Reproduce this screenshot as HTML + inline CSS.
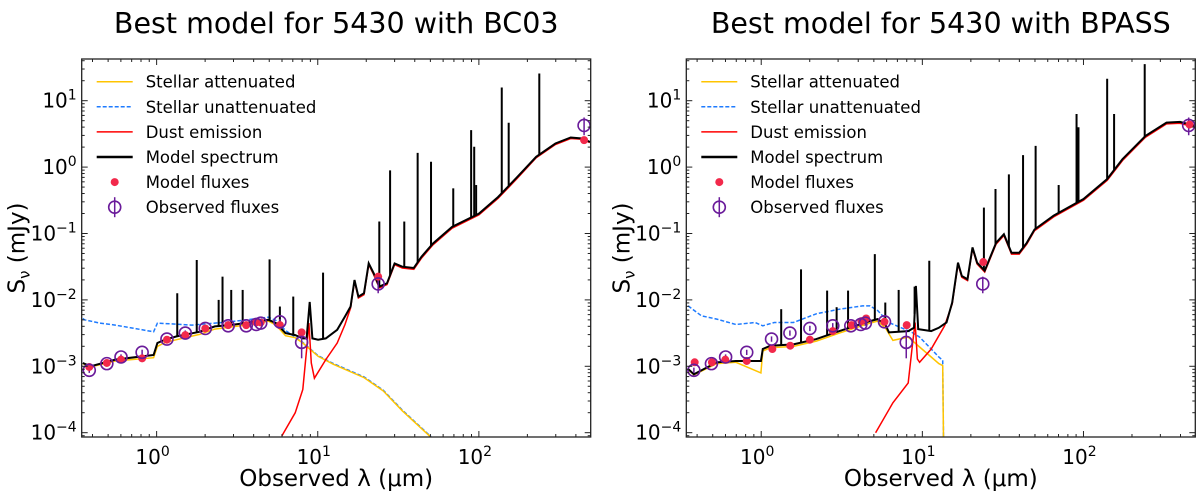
<!DOCTYPE html>
<html><head><meta charset="utf-8">
<style>
html,body{margin:0;padding:0;background:#fff;}
svg{display:block;font-family:"DejaVu Sans","Liberation Sans",sans-serif;}
</style></head>
<body>
<svg id="chart" width="1200" height="492" viewBox="0 0 1200 492" xmlns="http://www.w3.org/2000/svg"></svg>
<script>
// ---- shared data (log10 units) ----
const obsLam = [-0.418,-0.309,-0.221,-0.09,0.064,0.178,0.302,0.444,0.556,0.618,0.646,0.765,0.90,1.375,2.653];
const obsFlux = [-3.06,-2.96,-2.86,-2.79,-2.59,-2.50,-2.43,-2.39,-2.39,-2.37,-2.35,-2.33,-2.64,-1.76,0.627];
const obsErrHi = [-3.02,-2.92,-2.82,-2.75,-2.55,-2.46,-2.39,-2.35,-2.35,-2.33,-2.31,-2.29,-2.45,-1.65,0.746];
const obsErrLo = [-3.10,-3.00,-2.90,-2.83,-2.63,-2.54,-2.47,-2.43,-2.43,-2.41,-2.39,-2.37,-2.88,-1.90,0.48];
const xTicks = [0,1,2];
const yTicks = [1,0,-1,-2,-3,-4];

// ---- BC03 panel ----
const bc03ContLam = [-0.458,-0.41,-0.257,-0.019,0.005,0.052,0.124,0.266,0.361,0.456,0.575,0.694,0.741,0.80,0.86,0.907,0.931,0.95,0.967,1.002,1.05,1.121,1.169,1.204,1.228,1.252,1.287,1.316,1.347,1.382,1.43,1.477,1.525,1.596,1.644,1.715,1.834,2.0,2.119,2.238,2.356,2.475,2.57,2.641,2.689];
const bc03ContFlux = [-2.95,-3.00,-2.90,-2.83,-2.65,-2.60,-2.55,-2.48,-2.40,-2.38,-2.34,-2.30,-2.35,-2.50,-2.53,-2.58,-2.58,-2.03,-2.58,-2.60,-2.58,-2.45,-2.25,-2.10,-1.70,-1.95,-1.90,-1.45,-1.60,-1.80,-1.75,-1.45,-1.50,-1.52,-1.35,-1.15,-0.90,-0.70,-0.45,-0.15,0.155,0.356,0.446,0.43,0.38];
const bc03LineLam = [0.128,0.249,0.385,0.409,0.463,0.534,0.701,0.765,0.848,1.033,1.382,1.449,1.537,1.62,1.703,1.841,1.952,1.971,1.983,2.142,2.185,2.375];
const bc03LinePeak = [-1.90,-1.40,-2.0,-1.65,-1.85,-1.85,-1.39,-2.10,-1.95,-1.59,-0.82,-0.05,-0.82,0.215,0.08,-0.32,0.556,0.306,-0.27,1.198,0.667,1.41];
const bc03UnattLam = [-0.458,-0.447,-0.352,-0.257,-0.138,-0.019,0.005,0.219,0.456,0.694,0.741,0.80,0.907,1.002,1.097,1.287,1.406,1.525,1.703];
const bc03UnattFlux = [-2.28,-2.30,-2.35,-2.38,-2.43,-2.48,-2.35,-2.38,-2.33,-2.26,-2.31,-2.46,-2.64,-2.84,-2.96,-3.16,-3.36,-3.66,-4.06];
const bc03AttLam = [-0.458,-0.41,-0.257,-0.019,0.005,0.052,0.124,0.266,0.361,0.456,0.575,0.694,0.741,0.80,0.86,0.907,1.002,1.097,1.287,1.406,1.525,1.703];
const bc03AttFlux = [-2.96,-3.01,-2.92,-2.87,-2.70,-2.64,-2.60,-2.52,-2.44,-2.41,-2.37,-2.32,-2.38,-2.54,-2.57,-2.65,-2.85,-2.97,-3.17,-3.37,-3.67,-4.07];
const bc03DustLam = [0.777,0.86,0.907,0.931,0.945,0.96,0.979,1.05,1.121,1.169,1.204,1.228,1.252,1.287,1.316,1.347,1.382,1.43,1.477,1.525,1.596,1.644,1.715,1.834,2.0,2.119,2.238,2.356,2.475,2.57,2.641,2.689];
const bc03DustFlux = [-4.05,-3.70,-3.35,-2.75,-2.35,-2.95,-3.18,-2.90,-2.65,-2.37,-2.12,-1.72,-1.97,-1.92,-1.47,-1.62,-1.82,-1.77,-1.47,-1.52,-1.54,-1.37,-1.17,-0.92,-0.72,-0.47,-0.17,0.14,0.34,0.43,0.42,0.37];
const bc03ModLam = [-0.418,-0.309,-0.221,-0.09,0.064,0.178,0.302,0.444,0.556,0.618,0.646,0.765,0.90,1.375,2.653];
const bc03ModFlux = [-3.01,-2.95,-2.90,-2.88,-2.60,-2.53,-2.43,-2.38,-2.38,-2.34,-2.34,-2.38,-2.49,-1.65,0.406];

// ---- BPASS panel ----
const bpContLam = [-0.454,-0.418,-0.276,-0.157,-0.002,0.01,0.057,0.20,0.342,0.485,0.675,0.722,0.77,0.793,0.912,0.948,0.96,0.974,1.055,1.102,1.15,1.185,1.221,1.245,1.28,1.311,1.34,1.387,1.458,1.506,1.553,1.601,1.648,1.696,1.815,2.0,2.147,2.242,2.385,2.515,2.599,2.694];
const bpContFlux = [-3.04,-3.12,-2.94,-2.92,-2.92,-2.74,-2.69,-2.67,-2.59,-2.47,-2.32,-2.29,-2.37,-2.49,-2.47,-2.42,-1.79,-2.44,-2.47,-2.42,-2.34,-2.04,-1.44,-1.64,-1.69,-1.21,-1.44,-1.56,-1.14,-1.01,-1.29,-1.29,-1.14,-0.94,-0.73,-0.48,-0.18,0.12,0.47,0.67,0.68,0.62];
const bpLineLam = [0.124,0.247,0.409,0.468,0.539,0.705,0.77,0.853,0.952,1.043,1.382,1.454,1.537,1.625,1.703,1.846,1.957,1.969,2.147,2.19,2.38];
const bpLinePeak = [-2.14,-1.54,-1.86,-2.11,-1.86,-1.31,-2.04,-1.85,-1.80,-1.41,-0.61,-0.33,-0.11,0.18,0.32,-0.27,0.80,0.60,1.33,0.80,1.55];
const bpUnattLam = [-0.454,-0.371,-0.276,-0.157,-0.038,0.01,0.081,0.20,0.342,0.485,0.627,0.675,0.722,0.793,0.888,0.936,0.983,1.055,1.102,1.126,1.131];
const bpUnattFlux = [-2.09,-2.24,-2.29,-2.37,-2.34,-2.39,-2.34,-2.34,-2.21,-2.14,-2.09,-2.09,-2.16,-2.34,-2.44,-2.49,-2.56,-2.74,-2.86,-2.91,-4.1];
const bpAttLam = [-0.454,-0.418,-0.276,-0.157,-0.002,0.01,0.057,0.20,0.342,0.485,0.675,0.722,0.77,0.817,0.912,0.983,1.055,1.102,1.126,1.131];
const bpAttFlux = [-3.05,-3.13,-2.96,-2.94,-3.10,-2.77,-2.72,-2.70,-2.62,-2.50,-2.35,-2.32,-2.42,-2.61,-2.56,-2.71,-2.86,-2.96,-2.99,-4.1];
const bpDustLam = [0.71,0.817,0.912,0.94,0.955,0.969,0.983,1.055,1.138,1.185,1.221,1.245,1.28,1.311,1.34,1.387,1.458,1.506,1.553,1.601,1.648,1.696,1.815,2.0,2.147,2.242,2.385,2.515,2.599,2.694];
const bpDustFlux = [-4.0,-3.55,-3.25,-2.64,-2.34,-2.89,-2.94,-2.74,-2.39,-2.06,-1.46,-1.66,-1.71,-1.23,-1.46,-1.58,-1.16,-1.03,-1.31,-1.31,-1.16,-0.96,-0.75,-0.50,-0.20,0.10,0.45,0.65,0.66,0.60];
const bpModLam = [-0.413,-0.306,-0.223,-0.09,0.069,0.18,0.302,0.444,0.561,0.622,0.651,0.765,0.903,1.378,2.658];
const bpModFlux = [-2.94,-2.94,-2.90,-2.92,-2.74,-2.69,-2.60,-2.47,-2.38,-2.32,-2.28,-2.33,-2.38,-1.43,0.64];

const NS = "http://www.w3.org/2000/svg";
const svg = document.getElementById('chart');
function mk(tag, attrs, parent){ const e=document.createElementNS(NS,tag); for(const k in attrs) e.setAttribute(k,attrs[k]); (parent||svg).appendChild(e); return e; }

const X0 = -0.465, X1 = 2.694, Y0 = -4.065, Y1 = 1.628;
const TOP = 59, BOT = 437, W = 509;

function interp(xs, ys, x){
  if (x<=xs[0]) return ys[0];
  for (let i=1;i<xs.length;i++){ if (x<=xs[i]){ const t=(x-xs[i-1])/(xs[i]-xs[i-1]); return ys[i-1]+t*(ys[i]-ys[i-1]); } }
  return ys[ys.length-1];
}

function panel(id, left, title, d){
  const sx = v => left + (v - X0)/(X1 - X0)*W;
  const sy = v => BOT - (v - Y0)/(Y1 - Y0)*(BOT - TOP);
  const g = mk('g', {});
  
  
  const cp = mk('clipPath', {id: id+'-clip'}, g);
  mk('rect', {x:left, y:TOP, width:W, height:BOT-TOP}, cp);
  const t = mk('text', {x:left+W/2, y:33, 'text-anchor':'middle', 'font-size':'28.5', fill:'#000'}, g);
  t.textContent = title;
  
  

  const plot = mk('g', {'clip-path':'url(#'+id+'-clip)'}, g);
  
  
  const path = (xs, ys) => xs.map((x,i)=>(i?'L':'M')+sx(x).toFixed(1)+' '+sy(ys[i]).toFixed(1)).join(' ');

  const un = mk('path', {d:path(d.unL,d.unF), fill:'none', stroke:'#1e7bff', 'stroke-width':1.5, 'stroke-dasharray':'4,2'}, plot);
  
  
  const at = mk('path', {d:path(d.atL,d.atF), fill:'none', stroke:'#ffc400', 'stroke-width':1.5}, plot);
  
  
  const dust = mk('path', {d:path(d.duL,d.duF), fill:'none', stroke:'#ff0000', 'stroke-width':1.5}, plot);
  
  
  const cont = mk('path', {d:path(d.coL,d.coF), fill:'none', stroke:'#000', 'stroke-width':2}, plot);
  
  
  d.liL.forEach((lam,i)=>{
    const base = interp(d.coL, d.coF, lam);
    const ln = mk('line', {x1:sx(lam), x2:sx(lam), y1:sy(base), y2:sy(d.liP[i]), stroke:'#000', 'stroke-width':2}, plot);
    
    
  });
  obsLam.forEach((lam,i)=>{
    const eb = mk('line', {x1:sx(lam), x2:sx(lam), y1:sy(obsErrLo[i]), y2:sy(obsErrHi[i]), stroke:'#6a1b9a', 'stroke-width':1.5}, plot);
    
    
  });
  d.moL.forEach((lam,i)=>{
    const c = mk('circle', {cx:sx(lam), cy:sy(d.moF[i]), r:4, fill:'#f2294b'}, plot);
    
    
  });
  obsLam.forEach((lam,i)=>{
    const c = mk('circle', {cx:sx(lam), cy:sy(obsFlux[i]), r:6, fill:'none', stroke:'#6a1b9a', 'stroke-width':1.6}, plot);
    
    
  });

  const fr = mk('rect', {x:left, y:TOP, width:W, height:BOT-TOP, fill:'none', stroke:'#222', 'stroke-width':1.3}, g);
  
  
  for (let dec=-1; dec<=2; dec++){
    for (let m=1; m<=9; m++){
      const v = dec + Math.log10(m);
      if (v < X0 || v > X1) continue;
      const len = m===1 ? 6 : 3;
      const x = sx(v);
      mk('line', {x1:x,x2:x,y1:BOT,y2:BOT-len,stroke:'#222','stroke-width':1}, g);
      mk('line', {x1:x,x2:x,y1:TOP,y2:TOP+len,stroke:'#222','stroke-width':1}, g);
    }
  }
  xTicks.forEach(v=>{
    const tx = mk('text', {x:sx(v)-4, y:464, 'text-anchor':'middle','font-size':'20'}, g);
    
    
    tx.innerHTML = '10<tspan dy="-8" font-size="14">'+v+'</tspan>';
  });
  for (let dec=-5; dec<=1; dec++){
    for (let m=1; m<=9; m++){
      const v = dec + Math.log10(m);
      if (v < Y0 || v > Y1) continue;
      const len = m===1 ? 6 : 3;
      const y = sy(v);
      mk('line', {x1:left,x2:left+len,y1:y,y2:y,stroke:'#222','stroke-width':1}, g);
      mk('line', {x1:left+W,x2:left+W-len,y1:y,y2:y,stroke:'#222','stroke-width':1}, g);
    }
  }
  yTicks.forEach(v=>{
    const ty = mk('text', {x:left-5, y:sy(v)+7, 'text-anchor':'end','font-size':'20'}, g);
    
    
    ty.innerHTML = '10<tspan dy="-8" font-size="14">'+(v<0?'\u2212'+(-v):v)+'</tspan>';
  });
  const xl = mk('text', {x:left+W/2, y:486, 'text-anchor':'middle','font-size':'23'}, g);
  
  
  xl.textContent = 'Observed \u03bb (\u03bcm)';
  const yl = mk('text', {x:0, y:0, 'text-anchor':'middle','font-size':'23', transform:'translate('+(left-57)+' '+((TOP+BOT)/2)+') rotate(-90)'}, g);
  
  
  yl.innerHTML = 'S<tspan dy="5" font-size="15">\u03bd</tspan><tspan dy="-5"> (mJy)</tspan>';

  const lg = mk('g', {}, g);
  
  
  const rows = [
    ['Stellar attenuated','#ffc400','solid'],
    ['Stellar unattenuated','#1e7bff','dash'],
    ['Dust emission','#ff0000','solid'],
    ['Model spectrum','#000','thick'],
    ['Model fluxes','#f2294b','dot'],
    ['Observed fluxes','#6a1b9a','obs']
  ];
  const lx = left + 15;
  rows.forEach((r,i)=>{
    const y = 81.7 + i*25.1;
    const e = mk('g', {}, lg);
    
    
    if (r[2]==='dot') mk('circle',{cx:lx+18,cy:y,r:4,fill:r[1]},e);
    else if (r[2]==='obs'){ mk('circle',{cx:lx+18,cy:y,r:6,fill:'none',stroke:r[1],'stroke-width':1.6},e); mk('line',{x1:lx+18,x2:lx+18,y1:y-10,y2:y+10,stroke:r[1],'stroke-width':1.5},e); }
    else mk('line',{x1:lx,x2:lx+36,y1:y,y2:y,stroke:r[1],'stroke-width':r[2]==='thick'?2.5:1.5,'stroke-dasharray':r[2]==='dash'?'4,2':'none'},e);
    const tt = mk('text',{x:lx+49,y:y+6,'font-size':'16.5'},e);
    tt.textContent = r[0];
  });
}

panel('bc03', 81.7, 'Best model for 5430 with BC03', {
  coL:bc03ContLam, coF:bc03ContFlux, liL:bc03LineLam, liP:bc03LinePeak,
  unL:bc03UnattLam, unF:bc03UnattFlux, atL:bc03AttLam, atF:bc03AttFlux,
  duL:bc03DustLam, duF:bc03DustFlux, moL:bc03ModLam, moF:bc03ModFlux});
panel('bpass', 686.3, 'Best model for 5430 with BPASS', {
  coL:bpContLam, coF:bpContFlux, liL:bpLineLam, liP:bpLinePeak,
  unL:bpUnattLam, unF:bpUnattFlux, atL:bpAttLam, atF:bpAttFlux,
  duL:bpDustLam, duF:bpDustFlux, moL:bpModLam, moF:bpModFlux});
</script>
</body></html>
